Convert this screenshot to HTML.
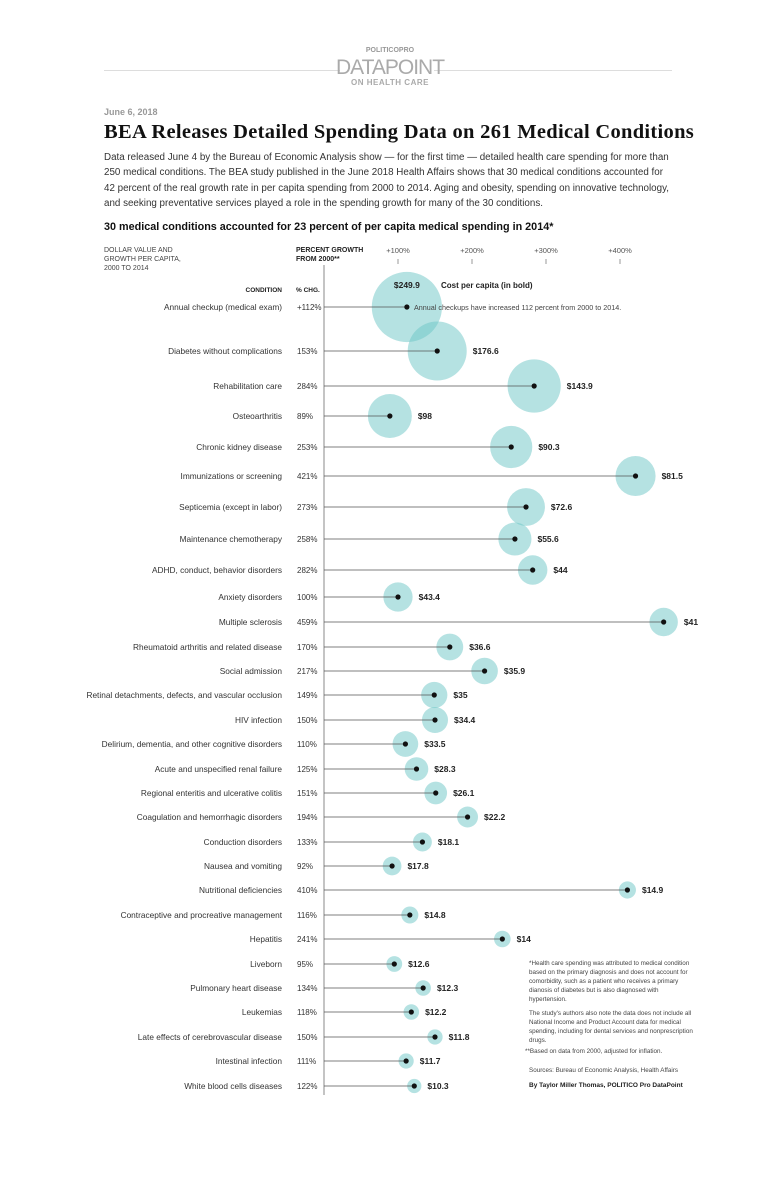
<!DOCTYPE html>
<html><head><meta charset="utf-8">
<style>
body{margin:0;background:#fff;font-family:"Liberation Sans",sans-serif;color:#222}
#page{position:relative;width:776px;height:1200px;overflow:hidden}
.abs{position:absolute}
</style></head>
<body><div id="page">
<div class="abs" style="left:104px;top:70px;width:236px;height:1px;background:#ddd"></div>
<div class="abs" style="left:434px;top:70px;width:238px;height:1px;background:#ddd"></div>
<div class="abs" style="left:300px;top:47px;width:180px;text-align:center;font-size:7px;color:#999;font-weight:bold">POLITICOPRO</div>
<div class="abs" style="left:300px;top:56px;width:180px;text-align:center;font-size:21px;color:#aaa;letter-spacing:-1px">DATAPOINT</div>
<div class="abs" style="left:300px;top:78px;width:180px;text-align:center;font-size:8px;color:#aaa;font-weight:bold;letter-spacing:0.5px">ON HEALTH CARE</div>
<div class="abs" style="left:104px;top:107px;font-size:9px;color:#999;font-weight:bold">June 6, 2018</div>
<div class="abs" style="left:104px;top:121px;font-family:'Liberation Serif',serif;font-size:20.5px;font-weight:bold;color:#111;white-space:nowrap;letter-spacing:0.3px">BEA Releases Detailed Spending Data on 261 Medical Conditions</div>
<div class="abs" style="left:104px;top:150px;width:572px;font-size:9.8px;line-height:15.3px;color:#333">Data released June 4 by the Bureau of Economic Analysis show — for the first time — detailed health care spending for more than 250 medical conditions. The BEA study published in the June 2018 Health Affairs shows that 30 medical conditions accounted for 42 percent of the real growth rate in per capita spending from 2000 to 2014. Aging and obesity, spending on innovative technology, and seeking preventative services played a role in the spending growth for many of the 30 conditions.</div>
<div class="abs" style="left:104px;top:221px;font-size:10.8px;font-weight:bold;color:#111;white-space:nowrap">30 medical conditions accounted for 23 percent of per capita medical spending in 2014*</div>
<div class="abs" style="left:104px;top:246px;font-size:7px;line-height:9px;color:#444">DOLLAR VALUE AND<br>GROWTH PER CAPITA,<br>2000 TO 2014</div>
<div class="abs" style="left:296px;top:246px;font-size:7px;line-height:9px;color:#222;font-weight:bold">PERCENT GROWTH<br>FROM 2000**</div>
<div class="abs" style="left:180px;top:287px;width:102px;text-align:right;font-size:6.5px;font-weight:bold">CONDITION</div>
<div class="abs" style="left:296px;top:287px;font-size:6.5px;font-weight:bold">% CHG.</div>
<svg class="abs" style="left:0;top:0" width="776" height="1200" id="chart"></svg>
<div class="abs" style="left:529px;top:959px;width:166px;font-size:6.3px;line-height:9px;color:#444">*Health care spending was attributed to medical condition based on the primary diagnosis and does not account for comorbidity, such as a patient who receives a primary dianosis of diabetes but is also diagnosed with hypertension.</div>
<div class="abs" style="left:529px;top:1009px;width:166px;font-size:6.3px;line-height:9px;color:#444">The study's authors also note the data does not include all National Income and Product Account data for medical spending, including for dental services and nonprescription drugs.</div>
<div class="abs" style="left:525px;top:1048px;font-size:6.3px;color:#444;white-space:nowrap">**Based on data from 2000, adjusted for inflation.</div>
<div class="abs" style="left:529px;top:1067px;font-size:6.3px;color:#444;white-space:nowrap">Sources: Bureau of Economic Analysis, Health Affairs</div>
<div class="abs" style="left:529px;top:1082px;font-size:6.5px;font-weight:bold;color:#222;white-space:nowrap">By Taylor Miller Thomas, POLITICO Pro DataPoint</div>
</div>
<script>
const conditions=["Annual checkup (medical exam)","Diabetes without complications","Rehabilitation care","Osteoarthritis","Chronic kidney disease","Immunizations or screening","Septicemia (except in labor)","Maintenance chemotherapy","ADHD, conduct, behavior disorders","Anxiety disorders","Multiple sclerosis","Rheumatoid arthritis and related disease","Social admission","Retinal detachments, defects, and vascular occlusion","HIV infection","Delirium, dementia, and other cognitive disorders","Acute and unspecified renal failure","Regional enteritis and ulcerative colitis","Coagulation and hemorrhagic disorders","Conduction disorders","Nausea and vomiting","Nutritional deficiencies","Contraceptive and procreative management","Hepatitis","Liveborn","Pulmonary heart disease","Leukemias","Late effects of cerebrovascular disease","Intestinal infection","White blood cells diseases"];
const growth=[112,153,284,89,253,421,273,258,282,100,459,170,217,149,150,110,125,151,194,133,92,410,116,241,95,134,118,150,111,122];
const cost=[249.9,176.6,143.9,98,90.3,81.5,72.6,55.6,44,43.4,41,36.6,35.9,35,34.4,33.5,28.3,26.1,22.2,18.1,17.8,14.9,14.8,14,12.6,12.3,12.2,11.8,11.7,10.3];
const rowY=[307,351,386,416,447,476,507,539,570,597,622,647,671,695,720,744,769,793,817,842,866,890,915,939,964,988,1012,1037,1061,1086];
const ticks=[100,200,300,400];
const x=v=>324+v*0.74;
const r=v=>2.22*Math.sqrt(v);
const svg=document.getElementById('chart');
const NS='http://www.w3.org/2000/svg';
function mk(t,a){const e=document.createElementNS(NS,t);for(const k in a)e.setAttribute(k,a[k]);svg.appendChild(e);return e;}
ticks.forEach(t=>{
 const tl=mk('text',{x:x(t),y:253,'text-anchor':'middle','font-size':'7.5',fill:'#555','font-family':'Liberation Sans'});
 tl.textContent='+'+t+'%';
 
 
 const tk=mk('line',{x1:x(t),x2:x(t),y1:259,y2:264,stroke:'#999','stroke-width':1});
 
 
});
const ax=mk('line',{x1:324,x2:324,y1:265,y2:1095,stroke:'#888','stroke-width':1});


conditions.forEach((c,i)=>{
 const y=rowY[i];
 const ci=mk('circle',{cx:x(growth[i]),cy:y,r:r(cost[i]),fill:'#6cc5c5','fill-opacity':0.5});
 
 
});
conditions.forEach((c,i)=>{
 const y=rowY[i];
 const ln=mk('line',{x1:324,x2:x(growth[i]),y1:y,y2:y,stroke:'#555','stroke-width':0.8});
 
 
 const d=mk('circle',{cx:x(growth[i]),cy:y,r:2.6,fill:'#111'});
 
 
 const lb=mk('text',{x:282,y:y+3,'text-anchor':'end','font-size':'8.3',fill:'#333','font-family':'Liberation Sans'});
 lb.textContent=c;
 
 
 const pc=mk('text',{x:297,y:y+3,'font-size':'8',fill:'#333','font-family':'Liberation Sans'});
 pc.textContent=(i===0?'+':'')+growth[i]+'%';
 
 
 if(i===0){
  const v=mk('text',{x:x(growth[i]),y:y-19,'text-anchor':'middle','font-size':'8.5','font-weight':'bold',fill:'#222','font-family':'Liberation Sans'});
  v.textContent='$'+cost[i];
  
  
  const n=mk('text',{x:441,y:y-19,'font-size':'8','font-weight':'bold',fill:'#222','font-family':'Liberation Sans'});
  n.textContent='Cost per capita (in bold)';
  
  
  const a=mk('text',{x:414,y:y+3,'font-size':'7.2',fill:'#444','font-family':'Liberation Sans'});
  a.textContent='Annual checkups have increased 112 percent from 2000 to 2014.';
  
  
 } else {
  const v=mk('text',{x:x(growth[i])+r(cost[i])+6,y:y+3,'font-size':'8.5','font-weight':'bold',fill:'#222','font-family':'Liberation Sans'});
  v.textContent='$'+cost[i];
  
  
 }
});
</script>
</body></html>
